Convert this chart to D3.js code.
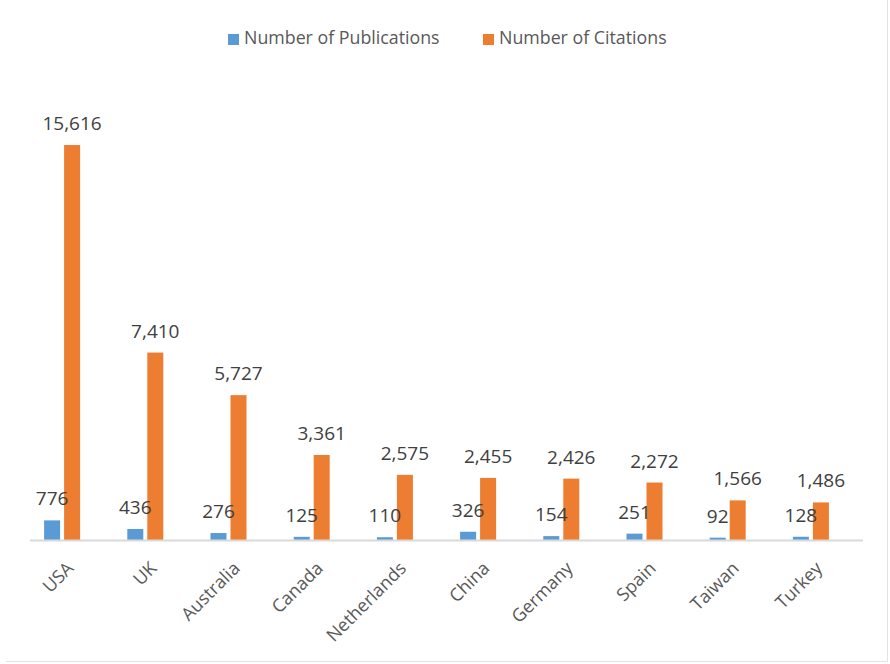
<!DOCTYPE html>
<html>
<head>
<meta charset="utf-8">
<script src="https://cdn.jsdelivr.net/npm/d3@7"></script>
<style>
  html, body { margin: 0; padding: 0; background: #fff; }
  svg { display: block; font-family: "Open Sans", "Noto Sans", sans-serif; }
</style>
</head>
<body>
<svg id="chart" width="890" height="664"></svg>
<script>
// Top-10 countries by publications and citations
const countries = ["USA", "UK", "Australia", "Canada", "Netherlands", "China", "Germany", "Spain", "Taiwan", "Turkey"];
const publications = [776, 436, 276, 125, 110, 326, 154, 251, 92, 128];
const citations = [15616, 7410, 5727, 3361, 2575, 2455, 2426, 2272, 1566, 1486];
const seriesNames = ["Number of Publications", "Number of Citations"];
const seriesColors = ["#5B9BD5", "#ED7D31"];

const svg = d3.select("#chart");
const W = 890, H = 664;

const x = d3.scaleBand().domain(countries).range([20.5, 852.5]);
const y = d3.scaleLinear().domain([0, 16000]).range([540, 135.3]);

const barW = 16, gap = 4;
const fmt = d3.format(",");

// frame edges
svg.append("line").attr("x1", W - 2.5).attr("x2", W - 2.5).attr("y1", 0).attr("y2", H - 2.5)
  .attr("stroke", "#e3e3e3").attr("stroke-width", 1);
svg.append("line").attr("x1", 6).attr("x2", W - 2.5).attr("y1", H - 2.5).attr("y2", H - 2.5)
  .attr("stroke", "#e3e3e3").attr("stroke-width", 1);

const series = [publications, citations];
const offsets = [-(barW + gap / 2), gap / 2];

const groups = svg.append("g");
series.forEach((vals, si) => {
  const g = groups.append("g");
  g.selectAll("rect").data(countries).join("rect")
    .attr("x", d => x(d) + x.bandwidth() / 2 + offsets[si])
    .attr("y", (d, i) => y(vals[i]))
    .attr("width", barW)
    .attr("height", (d, i) => y(0) - y(vals[i]))
    .attr("fill", seriesColors[si]);
});

// value labels
series.forEach((vals, si) => {
  svg.append("g").selectAll("text").data(countries).join("text")
    .attr("x", d => x(d) + x.bandwidth() / 2 + offsets[si] + barW / 2)
    .attr("y", (d, i) => y(vals[i]) - 15)
    .attr("text-anchor", "middle")
    .attr("font-size", 19)
    .attr("fill", "#404040")
    .text((d, i) => fmt(vals[i]));
});

// category axis
const xAxis = svg.append("g").attr("transform", `translate(0,${y(0)})`)
  .call(d3.axisBottom(x).tickSize(0).tickPadding(0));
xAxis.select(".domain").remove();
xAxis.append("line").attr("x1", 30).attr("x2", 863).attr("y1", 0.5).attr("y2", 0.5)
  .attr("stroke", "#d9d9d9").attr("stroke-width", 2);
xAxis.selectAll(".tick text")
  .attr("font-family", "'Open Sans', 'Noto Sans', sans-serif")
  .attr("font-size", 18)
  .attr("fill", "#595959")
  .attr("text-anchor", "end")
  .attr("dy", "0.35em")
  .attr("y", 0)
  .attr("transform", "translate(8,25) rotate(-45)");

// legend
const legendItems = [
  { name: seriesNames[0], color: seriesColors[0], x: 228 },
  { name: seriesNames[1], color: seriesColors[1], x: 483 }
];
const legend = svg.append("g");
legendItems.forEach(it => {
  legend.append("rect").attr("x", it.x).attr("y", 34).attr("width", 11).attr("height", 11).attr("fill", it.color);
  legend.append("text").attr("x", it.x + 16).attr("y", 44)
    .attr("font-size", 17.8).attr("fill", "#595959").text(it.name);
});
</script>
</body>
</html>
